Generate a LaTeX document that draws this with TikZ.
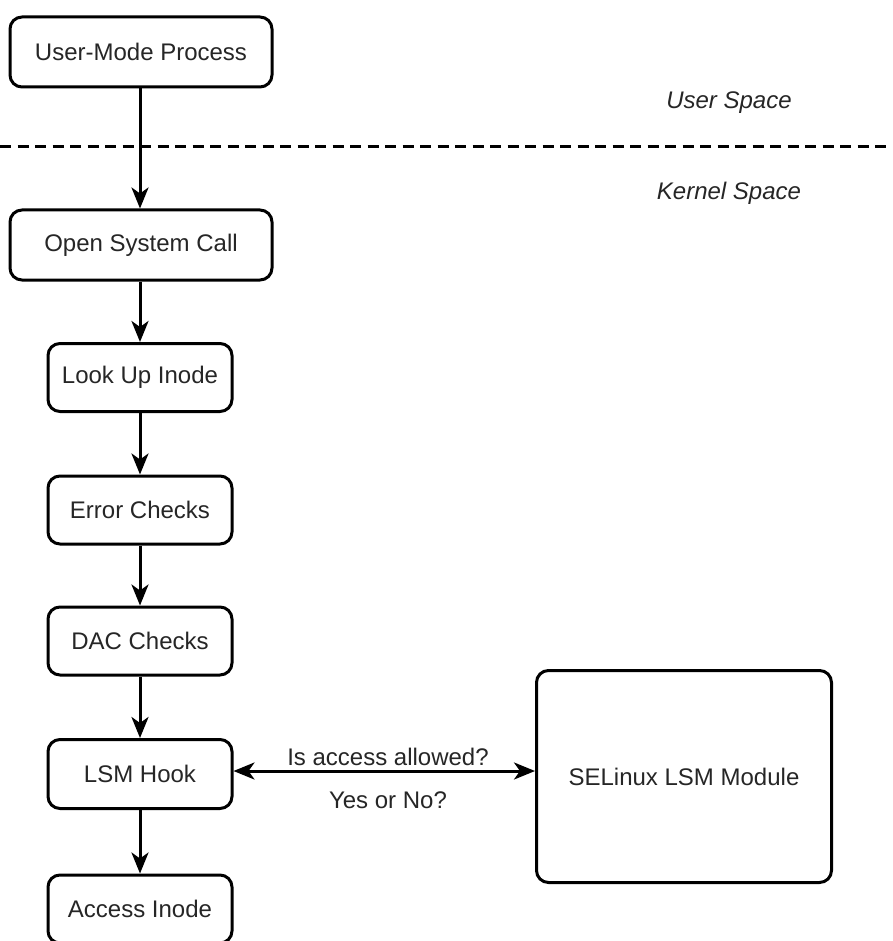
\documentclass[tikz,border=0pt]{standalone}
\usepackage{fontspec}
\setmainfont{Liberation Sans}
\usetikzlibrary{arrows.meta}
\begin{document}
\begin{tikzpicture}[x=1pt,y=-1pt,
  every node/.style={text=black!85, font=\fontsize{24}{28}\selectfont},
  box/.style={draw=black, line width=3pt, rounded corners=12pt, inner sep=0pt, fill=white},
  tip/.style={Stealth[length=21pt,width=17pt,inset=6pt]},
  arr/.style={line width=3pt, draw=black, -{Stealth[length=21pt,width=17pt,inset=6pt]}},
  darr/.style={line width=3pt, draw=black, {Stealth[length=21pt,width=17pt,inset=6pt]}-{Stealth[length=21pt,width=17pt,inset=6pt]}},
  lbl/.style={font=\fontsize{24}{28}\selectfont\itshape}]
\useasboundingbox (0,0) rectangle (892,941);
\clip (0,0) rectangle (892,941);
\fill[white] (0,0) rectangle (892,941);
\coordinate (dl) at (0,147);
\coordinate (dr) at (892,147);
\draw[line width=3pt, draw=black, dash pattern=on 11pt off 6.5pt] (dl) -- (dr);
\node[lbl] (us) at (729,103) {User Space};
\node[lbl] (ks) at (729,193) {Kernel Space};
\node[box, minimum width=262pt, minimum height=70pt] (ump) at (141,52) {User-Mode Process};
\node[box, minimum width=262pt, minimum height=70pt] (osc) at (141,245) {Open System Call};
\node[box, minimum width=184pt, minimum height=68pt] (lui) at (140,377.5) {Look Up Inode};
\node[box, minimum width=184pt, minimum height=68pt] (ec) at (140,510) {Error Checks};
\node[box, minimum width=184pt, minimum height=68pt] (dac) at (140,641) {DAC Checks};
\node[box, minimum width=184pt, minimum height=69pt] (lsm) at (140,774) {LSM Hook};
\node[box, minimum width=184pt, minimum height=68pt] (ai) at (140,909) {Access Inode};
\node[box, minimum width=295pt, minimum height=212pt] (sel) at (684,776.5) {SELinux LSM Module};
\draw[arr] (ump.south -| 140,0) -- (osc.north -| 140,0);
\draw[arr] (osc.south -| 140,0) -- (lui.north);
\draw[arr] (lui) -- (ec);
\draw[arr] (ec) -- (dac);
\draw[arr] (dac) -- (lsm);
\draw[arr] (lsm) -- (ai);
\coordinate (sw) at ([yshift=3pt]lsm.east -| sel.west);
\draw[darr] ([yshift=3pt]lsm.east) -- (sw);
\node (q) at (388,757) {Is access allowed?};
\node (a) at (388,800) {Yes or No?};
\end{tikzpicture}
\end{document}
